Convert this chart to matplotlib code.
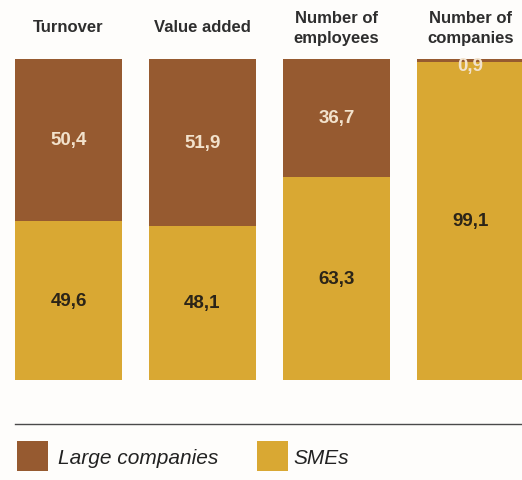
import matplotlib
matplotlib.use("Agg")
import matplotlib.pyplot as plt
import matplotlib.transforms as mtransforms
from matplotlib.patches import Rectangle

categories = ["Turnover", "Value added", "Number of\nemployees", "Number of\ncompanies"]
smes = [49.6, 48.1, 63.3, 99.1]
large = [50.4, 51.9, 36.7, 0.9]
series_names = ["Large companies", "SMEs"]

BROWN = "#965A30"
GOLD = "#D9A833"
BG = "#FEFDFB"

W, H = 522, 481
fig = plt.figure(figsize=(W / 100, H / 100), dpi=100, facecolor=BG)

# axes spanning bar area (pixels 60..381 top->bottom)
ax = fig.add_axes([0, (H - 381) / H, 1, 321 / H])
ax.set_facecolor(BG)
unit = 134.0
ax.set_xlim(-68.5 / unit, (W - 68.5) / unit)
ax.set_ylim(0, 100)
ax.axis("off")

x = list(range(len(categories)))
ax.bar(x, smes, width=0.8, color=GOLD, edgecolor="none")
ax.bar(x, large, bottom=smes, width=0.8, color=BROWN, edgecolor="none")

fmt = lambda v: f"{v:.1f}".replace(".", ",")
for i in x:
    s, l = smes[i], large[i]
    ax.text(i, s / 2, fmt(s), ha="center", va="center", fontsize=13.5,
            fontweight="bold", color="#2B2418", family="Liberation Sans")
    ly = s + l / 2 if l > 3 else 98.0
    ax.text(i, ly, fmt(l), ha="center", va="center", fontsize=13.5,
            fontweight="bold", color="#F2E2CC", family="Liberation Sans")

# headers
trans = mtransforms.blended_transform_factory(ax.transData, fig.transFigure)
for i, c in enumerate(categories):
    yc = 28.5 if "\n" in c else 27
    ax.text(i, (H - yc) / H, c, transform=trans,
            ha="center", va="center", fontsize=12, fontweight="bold",
            color="#2E2E2E", family="Liberation Sans", linespacing=1.4)

# separator line
fig.add_artist(plt.Line2D([15 / W, 1], [(H - 425) / H] * 2, color="#4A4A4A", lw=1.0))

# legend
fig.add_artist(Rectangle((17 / W, (H - 472) / H), 31 / W, 30 / H, transform=fig.transFigure,
                         facecolor=BROWN, edgecolor="none"))
fig.text(58 / W, (H - 459) / H, series_names[0], ha="left", va="center", fontsize=15,
         style="italic", color="#222222", family="Liberation Sans")
fig.add_artist(Rectangle((257 / W, (H - 472) / H), 31 / W, 30 / H, transform=fig.transFigure,
                         facecolor=GOLD, edgecolor="none"))
fig.text(293 / W, (H - 459) / H, series_names[1], ha="left", va="center", fontsize=15,
         style="italic", color="#222222", family="Liberation Sans")

fig.savefig("out.png", dpi=100, facecolor=BG)
